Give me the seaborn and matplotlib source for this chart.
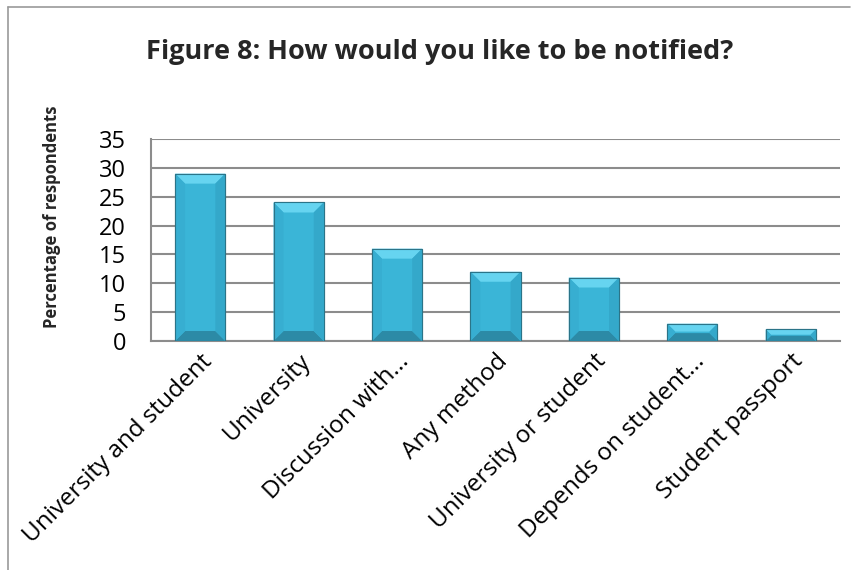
import matplotlib
matplotlib.use("Agg")
import matplotlib.pyplot as plt
from matplotlib.patches import Polygon, Rectangle
import seaborn as sns
import pandas as pd

categories = [
    "University and student",
    "University",
    "Discussion with...",
    "Any method",
    "University or student",
    "Depends on student...",
    "Student passport",
]
percentages = [29, 24, 16, 12, 11, 3, 2]
y_ticks = [0, 5, 10, 15, 20, 25, 30, 35]

title = "Figure 8: How would you like to be notified?"
y_label = "Percentage of respondents"

sns.set_theme(style="white")
plt.rcParams["font.family"] = ["Open Sans", "DejaVu Sans"]

df = pd.DataFrame({"method": categories, "pct": percentages})

fig = plt.figure(figsize=(8.59, 5.70), dpi=100)
ax = fig.add_axes([151 / 859, 1 - 341 / 570, (840 - 151) / 859, (341 - 139) / 570])

base = "#3AB5D7"
sns.barplot(data=df, x="method", y="pct", color=base, width=0.51,
            saturation=1, edgecolor="#2B7488", linewidth=0.8, ax=ax, zorder=3)

ax.set_ylim(0, 35)
ax.set_xlim(-0.5, len(categories) - 0.5)
ax.set_yticks(y_ticks)
ax.yaxis.grid(True, color="#8C8C8C", linewidth=1.5, zorder=0)
ax.set_axisbelow(True)

# bevelled look on each bar: lighter top edge, slightly shaded sides and base
fig.canvas.draw()
px_x = 1.0 / (ax.transData.transform((1, 0))[0] - ax.transData.transform((0, 0))[0])
px_y = 1.0 / (ax.transData.transform((0, 1))[1] - ax.transData.transform((0, 0))[1])
for p in ax.patches:
    x0, w, h = p.get_x(), p.get_width(), p.get_height()
    x1 = x0 + w
    d = min(10, h / px_y / 2.2)
    dx, dy = d * px_x, d * px_y
    ax.add_patch(Polygon([(x0, h), (x1, h), (x1 - dx, h - dy), (x0 + dx, h - dy)],
                         closed=True, facecolor="#66D4F0", edgecolor="none", zorder=4))
    ax.add_patch(Polygon([(x0, 0), (x1, 0), (x1 - dx, dy), (x0 + dx, dy)],
                         closed=True, facecolor="#2C8AA6", edgecolor="none", zorder=4))
    ax.add_patch(Polygon([(x0, 0), (x0 + dx, dy), (x0 + dx, h - dy), (x0, h)],
                         closed=True, facecolor="#37AED1", edgecolor="none", zorder=4))
    ax.add_patch(Polygon([(x1, 0), (x1 - dx, dy), (x1 - dx, h - dy), (x1, h)],
                         closed=True, facecolor="#34A8CA", edgecolor="none", zorder=4))
    ax.add_patch(Rectangle((x0, 0), w, h, facecolor="none", edgecolor="#2B7488",
                           linewidth=0.8, zorder=5))

for side in ["top", "right"]:
    ax.spines[side].set_visible(False)
for side in ["left", "bottom"]:
    ax.spines[side].set_color("#8C8C8C")
    ax.spines[side].set_linewidth(1.5)

ax.tick_params(axis="y", labelsize=17, length=0, pad=18, colors="black")
ax.tick_params(axis="x", labelsize=17.5, length=0, pad=6, colors="black")
plt.setp(ax.get_xticklabels(), rotation=45, ha="right", rotation_mode="anchor")
ax.set_xlabel("")
ax.set_ylabel(y_label, fontsize=12, fontweight="bold")
ax.yaxis.set_label_coords(-0.13, 0.614)

fig.text(0.512, 0.908, title, ha="center", va="center", fontsize=19.5, fontweight="bold")

# chart frame
fig.add_artist(plt.Line2D([8 / 859, 8 / 859], [0.0, 1 - 7 / 570], color="#9A9A9A", linewidth=1.2))
fig.add_artist(plt.Line2D([8 / 859, 850 / 859], [1 - 7 / 570, 1 - 7 / 570], color="#9A9A9A", linewidth=1.2))

fig.savefig("out.png", dpi=100)
